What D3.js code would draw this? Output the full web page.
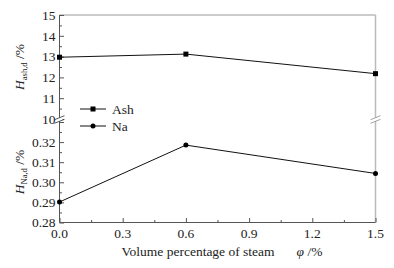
<!DOCTYPE html>
<html>
<head>
<meta charset="utf-8">
<script src="https://cdn.jsdelivr.net/npm/d3@7"></script>
<style>
  body { margin: 0; background: #fff; }
  svg { display: block; }
  text { font-family: "Liberation Serif", "Times New Roman", serif; fill: #222; }
</style>
</head>
<body>
<div id="chart"></div>
<script>
// data
const steam = [0.0, 0.6, 1.5];
const ashValues = [12.97, 13.12, 12.18];
const naValues = [0.2902, 0.3185, 0.3044];
const xTicks = [0.0, 0.3, 0.6, 0.9, 1.2, 1.5];
const ashTicks = [10, 11, 12, 13, 14, 15];
const naTicks = [0.28, 0.29, 0.30, 0.31, 0.32];

const width = 394, height = 268;
const left = 59.5, right = 375.5;

const svg = d3.select("#chart").append("svg")
    .attr("width", width)
    .attr("height", height);

const x = d3.scaleLinear().domain([0, 1.5]).range([left, right]);
const yAsh = d3.scaleLinear().domain([10, 15]).range([119, 15]);
const yNa = d3.scaleLinear().domain([0.28, 0.33]).range([222.5, 122]);

const axisColor = "#555";
const frameColor = "#bbb";

// frame: top and right
svg.append("line")
    .attr("x1", left).attr("x2", right)
    .attr("y1", yAsh(15)).attr("y2", yAsh(15))
    .attr("stroke", "#999").attr("stroke-width", 1);
svg.append("line")
    .attr("x1", right).attr("x2", right)
    .attr("y1", yAsh(15)).attr("y2", yNa(0.28))
    .attr("stroke", frameColor).attr("stroke-width", 1.5);

// left axis, upper panel
const axAsh = svg.append("g").attr("transform", `translate(${left},0)`);
axAsh.call(d3.axisRight(yAsh).tickValues(d3.range(10, 15.01, 0.5)).tickSize(2.5).tickFormat(""));
axAsh.call(g => g.selectAll(".tick").filter(d => Number.isInteger(d)).select("line").attr("x2", 4.5));
axAsh.selectAll("line, path").attr("stroke", axisColor);
axAsh.select(".domain").remove();

// left axis, lower panel
const axNa = svg.append("g").attr("transform", `translate(${left},0)`);
axNa.call(d3.axisRight(yNa).tickValues(d3.range(0, 11).map(i => 0.28 + i * 0.005)).tickSize(2.5).tickFormat(""));
axNa.call(g => g.selectAll(".tick").filter((d, i) => i % 2 === 0).select("line").attr("x2", 4.5));
axNa.selectAll("line, path").attr("stroke", axisColor);
axNa.select(".domain").remove();

// left axis line
svg.append("line")
    .attr("x1", left).attr("x2", left)
    .attr("y1", yAsh(15)).attr("y2", yNa(0.28))
    .attr("stroke", axisColor).attr("stroke-width", 1);

// y tick labels
svg.selectAll(".ashLabel")
    .data(ashTicks)
    .join("text")
    .attr("class", "ashLabel")
    .attr("x", left - 4)
    .attr("y", d => yAsh(d))
    .attr("dy", "0.35em")
    .attr("text-anchor", "end")
    .attr("font-size", 13.5)
    .text(d => d);

svg.selectAll(".naLabel")
    .data(naTicks)
    .join("text")
    .attr("class", "naLabel")
    .attr("x", left - 4)
    .attr("y", d => yNa(d))
    .attr("dy", "0.35em")
    .attr("text-anchor", "end")
    .attr("font-size", 13.5)
    .text(d => d.toFixed(2));

// bottom axis
const axX = svg.append("g").attr("transform", `translate(0,${yNa(0.28)})`);
axX.call(d3.axisTop(x).tickValues(d3.range(0, 11).map(i => i * 0.15)).tickSize(2.5).tickFormat(""));
axX.call(g => g.selectAll(".tick").filter((d, i) => i % 2 === 0).select("line").attr("y2", -4.5));
axX.selectAll("line, path").attr("stroke", axisColor);
axX.select(".domain").remove();
svg.append("line")
    .attr("x1", left).attr("x2", right)
    .attr("y1", yNa(0.28)).attr("y2", yNa(0.28))
    .attr("stroke", axisColor);

svg.selectAll(".xLabel")
    .data(xTicks)
    .join("text")
    .attr("class", "xLabel")
    .attr("x", d => x(d))
    .attr("y", yNa(0.28) + 15)
    .attr("text-anchor", "middle")
    .attr("font-size", 13.5)
    .text(d => d.toFixed(1));

// axis break marks
function breakMark(cx, cy, color) {
    const g = svg.append("g");
    g.append("rect")
        .attr("x", cx - 3).attr("y", cy - 2)
        .attr("width", 6).attr("height", 3.5)
        .attr("fill", "#fff");
    [-1.8, 1.8].forEach(o => {
        g.append("line")
            .attr("x1", cx - 5).attr("x2", cx + 5)
            .attr("y1", cy + o + 2).attr("y2", cy + o - 2)
            .attr("stroke", color).attr("stroke-width", 0.9);
    });
}
breakMark(left, 119.5, "#444");
breakMark(right, 119.5, "#999");

// lines and markers
const ashPts = steam.map((s, i) => [x(s), yAsh(ashValues[i])]);
const naPts = steam.map((s, i) => [x(s), yNa(naValues[i])]);

svg.append("path")
    .attr("d", d3.line()(ashPts))
    .attr("fill", "none").attr("stroke", "#111").attr("stroke-width", 1);
svg.append("path")
    .attr("d", d3.line()(naPts))
    .attr("fill", "none").attr("stroke", "#111").attr("stroke-width", 1);

svg.selectAll(".ashPt")
    .data(ashPts)
    .join("rect")
    .attr("class", "ashPt")
    .attr("x", d => d[0] - 2.5).attr("y", d => d[1] - 2.5)
    .attr("width", 5).attr("height", 5)
    .attr("fill", "#000");

svg.selectAll(".naPt")
    .data(naPts)
    .join("circle")
    .attr("class", "naPt")
    .attr("cx", d => d[0]).attr("cy", d => d[1])
    .attr("r", 2.5)
    .attr("fill", "#000");

// legend
const legend = svg.append("g").attr("transform", "translate(80,0)");
[["Ash", 109, "square"], ["Na", 126, "circle"]].forEach(([name, ly, shape]) => {
    legend.append("line")
        .attr("x1", 0).attr("x2", 26)
        .attr("y1", ly).attr("y2", ly)
        .attr("stroke", "#111");
    if (shape === "square") {
        legend.append("rect")
            .attr("x", 10.5).attr("y", ly - 2.5)
            .attr("width", 5).attr("height", 5).attr("fill", "#000");
    } else {
        legend.append("circle")
            .attr("cx", 13).attr("cy", ly).attr("r", 2.5).attr("fill", "#000");
    }
    legend.append("text")
        .attr("x", 32).attr("y", ly)
        .attr("dy", "0.35em")
        .attr("font-size", 13.5)
        .text(name);
});

// y axis titles
function yTitle(cy, sub) {
    const t = svg.append("text")
        .attr("transform", `translate(24,${cy}) rotate(-90)`)
        .attr("text-anchor", "middle")
        .attr("font-size", 13.5);
    t.append("tspan").attr("font-style", "italic").text("H");
    t.append("tspan").attr("font-size", 8.5).attr("dy", 3).text(sub);
    t.append("tspan").attr("dy", -3).text(" /%");
}
yTitle(67, "ash,d");
yTitle(172, "Na,d");

// x axis title
const xt = svg.append("text")
    .attr("x", 222)
    .attr("y", 256)
    .attr("text-anchor", "middle")
    .attr("font-size", 13.5);
xt.append("tspan").text("Volume percentage of steam");
xt.append("tspan").attr("font-style", "italic").attr("dx", 22).text("φ");
xt.append("tspan").text(" /%");
</script>
</body>
</html>
